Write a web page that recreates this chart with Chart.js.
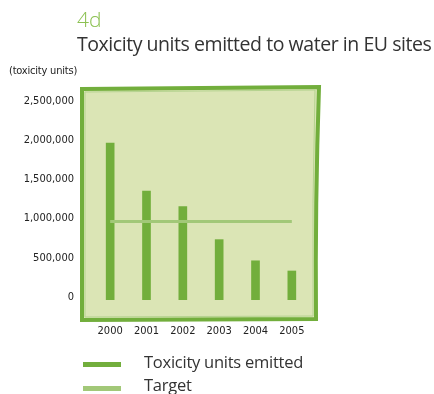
<!DOCTYPE html>
<html>
<head>
<meta charset="utf-8">
<script src="https://cdn.jsdelivr.net/npm/chart.js@4/dist/chart.umd.min.js"></script>
<style>
  html, body { margin: 0; padding: 0; background: #fff; }
  #wrap { position: relative; width: 434px; height: 394px; overflow: hidden; }
  #chart { position: absolute; left: 0; top: 0; }
  .txt { position: absolute; white-space: nowrap; font-family: "Open Sans", sans-serif; }
  #num { left: 77px; top: 5px; font-size: 21px; color: #8cc152; font-weight: 300; }
  #title { left: 77px; top: 30px; font-size: 19.5px; color: #333; letter-spacing: -0.45px; }
  #unit { left: 9px; top: 64px; font-size: 11px; color: #222; font-family: "DejaVu Sans Condensed", "Open Sans", sans-serif; letter-spacing: -0.2px; }
  .leg { position: absolute; left: 83px; width: 38px; height: 5px; }
  .legtxt { left: 144px; font-size: 16.5px; color: #333; letter-spacing: -0.25px; }
</style>
</head>
<body>
<div id="wrap">
  <canvas id="chart" width="434" height="394"></canvas>
  <div class="txt" id="num">4d</div>
  <div class="txt" id="title">Toxicity units emitted to water in EU sites</div>
  <div class="txt" id="unit">(toxicity units)</div>
  <div class="leg" style="top:362px;background:#72ae3c"></div>
  <div class="txt legtxt" style="top:350px">Toxicity units emitted</div>
  <div class="leg" style="top:386px;background:#a2c878"></div>
  <div class="txt legtxt" style="top:373px">Target</div>
</div>
<script>
const years = ['2000', '2001', '2002', '2003', '2004', '2005'];
const emitted = [2000000, 1390000, 1190000, 770000, 500000, 370000];
const target = [1000000, 1000000, 1000000, 1000000, 1000000, 1000000];
const yTicks = [0, 500000, 1000000, 1500000, 2000000, 2500000];

const tickFont = { family: '"DejaVu Sans Condensed", "Open Sans", sans-serif', size: 11 };

// Hand-drawn looking green frame behind the plot
const framePlugin = {
  id: 'frame',
  beforeDraw(chart) {
    const { ctx, chartArea: a } = chart;
    const L = a.left - 10, R = a.right + 9, T = a.top - 16, B = a.bottom + 19;
    ctx.save();
    ctx.beginPath();
    ctx.moveTo(L, T + 1);
    ctx.lineTo(R, T - 1);
    ctx.quadraticCurveTo(R - 4, (T + B) / 2, R - 3, B);
    ctx.lineTo(L, B + 1);
    ctx.closePath();
    ctx.fillStyle = '#dbe5b5';
    ctx.fill();
    ctx.lineWidth = 4;
    ctx.strokeStyle = '#72ae3c';
    ctx.stroke();
    // light inner rim
    ctx.beginPath();
    ctx.moveTo(L + 3, T + 4);
    ctx.lineTo(R - 4, T + 2);
    ctx.quadraticCurveTo(R - 7, (T + B) / 2, R - 6, B - 3);
    ctx.lineTo(L + 3, B - 2);
    ctx.closePath();
    ctx.lineWidth = 1;
    ctx.strokeStyle = '#b5d38f';
    ctx.stroke();
    ctx.restore();
  }
};

new Chart(document.getElementById('chart'), {
  data: {
    labels: years,
    datasets: [
      {
        type: 'line',
        label: 'Target',
        data: target,
        borderColor: '#a2c878',
        borderWidth: 3,
        pointRadius: 0,
        order: 0
      },
      {
        type: 'bar',
        label: 'Toxicity units emitted',
        data: emitted,
        backgroundColor: '#72ae3c',
        barThickness: 8,
        order: 1
      }
    ]
  },
  options: {
    responsive: false,
    animation: false,
    events: [],
    layout: { padding: { left: 0, top: 104, right: 124, bottom: 54 } },
    plugins: { legend: { display: false }, tooltip: { enabled: false } },
    scales: {
      x: {
        grid: { display: false, drawTicks: false },
        border: { display: false },
        ticks: { padding: 25, color: '#222', font: tickFont },
        afterFit(s) { s.height = 40; }
      },
      y: {
        min: 0,
        max: 2500000,
        afterBuildTicks(s) { s.ticks = yTicks.map(v => ({ value: v })); },
        grid: { display: false, drawTicks: false },
        border: { display: false },
        ticks: {
          padding: 18,
          labelOffset: -3,
          color: '#222',
          font: tickFont,
          callback: v => v.toLocaleString('en-US')
        },
        afterFit(s) { s.width = 92; }
      }
    }
  },
  plugins: [framePlugin]
});
</script>
</body>
</html>
